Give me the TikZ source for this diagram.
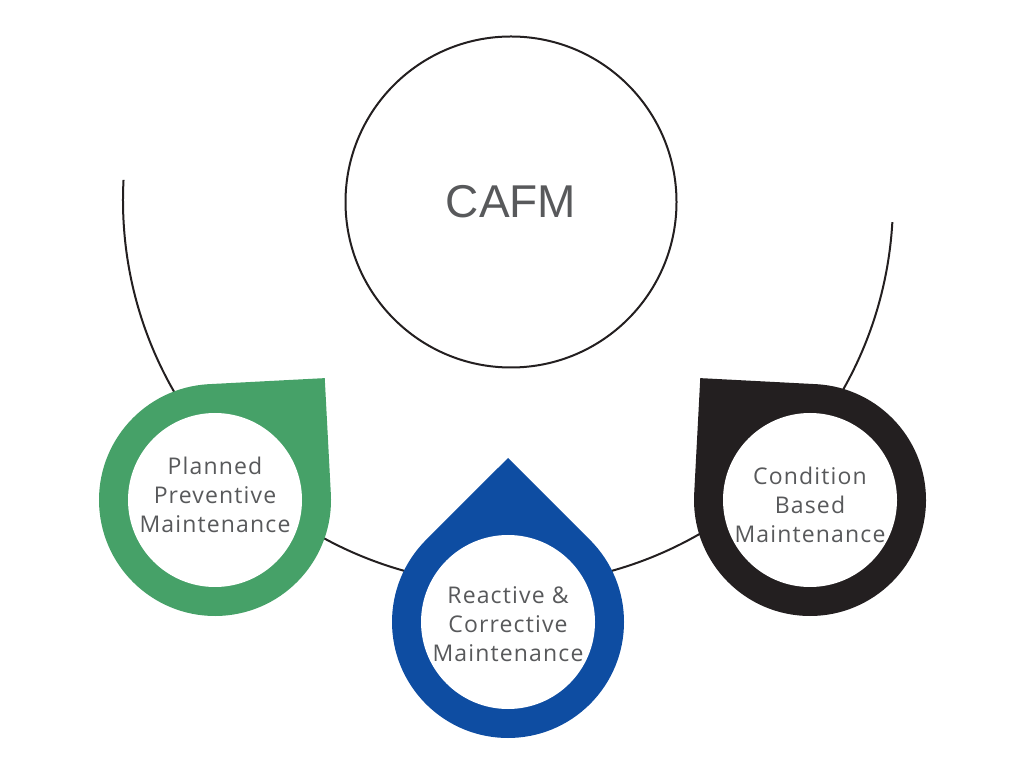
\documentclass[tikz,border=0pt]{standalone}
\usepackage{fontspec}
\newfontfamily\labelfont{Open Sans}[LetterSpace=5]
\newfontfamily\hubfont{Liberation Sans}
\usetikzlibrary{positioning}
\definecolor{dropgreen}{HTML}{46A168}
\definecolor{dropblue}{HTML}{0E4DA2}
\definecolor{dropblack}{HTML}{231F20}
\definecolor{labelgray}{HTML}{58595B}

\begin{document}
\begin{tikzpicture}[
        x=1pt, y=1pt,
        hub/.style={circle, draw=dropblack, line width=2pt, minimum size=331pt, font=\hubfont\fontsize{46}{50}\selectfont, text=labelgray},
        ring/.style={circle, fill=white, minimum size=174pt, inner sep=0pt},
        caption/.style={align=center, inner sep=0pt, font=\labelfont\fontsize{23}{29}\selectfont, text=labelgray},
        track/.style={draw=dropblack, line width=2pt},
    ]
    \useasboundingbox (0,0) rectangle (1024,768);

    % Centres
    \coordinate (arcmid) at (508,568);
    \coordinate (g) at (215,268);
    \coordinate (b) at (508,146);
    \coordinate (k) at (810,268);

    % Hub and track
    \node [hub] (cafm) at (511,566) {CAFM};
    \draw [track] (arcmid) ++(177:385) arc [start angle=177, end angle=356.7, radius=385];

    % Drops
    \fill [dropgreen] (g) ++(93:116) arc [start angle=93, end angle=363, radius=116] -- ([shift={(48:164)}]g) -- cycle;
    \fill [dropblue] (b) ++(135:116) arc [start angle=135, end angle=405, radius=116] -- ([shift={(90:164)}]b) -- cycle;
    \fill [dropblack] (k) ++(177:116) arc [start angle=177, end angle=447, radius=116] -- ([shift={(132:164)}]k) -- cycle;

    % Labels
    \node [ring] (ppm) at (g) {};
    \node [ring] (rcm) at (b) {};
    \node [ring] (cbm) at (k) {};
    \node [caption] (ppmtext) at ([yshift=5]ppm.center) {Planned\\Preventive\\Maintenance};
    \node [caption] (rcmtext) at ([yshift=-2]rcm.center) {Reactive \&\\Corrective\\Maintenance};
    \node [caption] (cbmtext) at ([yshift=-5]cbm.center) {Condition\\Based\\Maintenance};

\end{tikzpicture}
\end{document}
